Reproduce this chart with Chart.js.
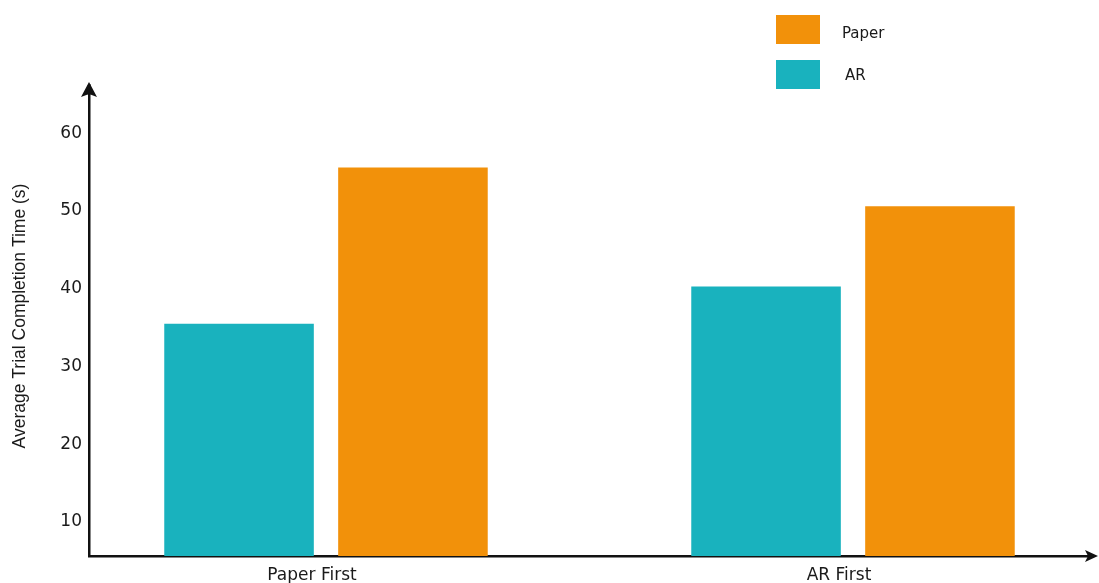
<!DOCTYPE html>
<html>
<head>
<meta charset="utf-8">
<script src="https://cdn.jsdelivr.net/npm/chart.js@4.4.1/dist/chart.umd.min.js"></script>
<style>
  html, body { margin: 0; padding: 0; background: #ffffff; }
  #wrap { width: 1099px; height: 583px; position: relative; }
</style>
</head>
<body>
<div id="wrap"><canvas id="chart"></canvas></div>
<script>
// Average trial completion time per condition order
const categories = ['Paper First', 'AR First'];
const arTimes = [35.5, 40.3];
const paperTimes = [55.6, 50.6];
const yTicks = [10, 20, 30, 40, 50, 60];
const seriesNames = ['AR', 'Paper'];
const seriesColors = ['#19B2BE', '#F2910A'];
const yTitle = 'Average Trial Completion Time (s)';

const AXIS_COLOR = '#111111';
const TEXT_COLOR = '#1a1a1a';

// Bars sit on a numeric x axis so the two groups can be placed freely
const toPoints = (values) => values.map((v, i) => ({ x: i, y: v }));

// Arrowheads on both axes, the rotated y title and a stacked legend
const decorations = {
  id: 'decorations',
  afterDraw(chart) {
    const { ctx, chartArea } = chart;
    const { left, right, top, bottom } = chartArea;
    ctx.save();
    ctx.fillStyle = AXIS_COLOR;
    ctx.strokeStyle = AXIS_COLOR;
    ctx.lineWidth = 2.5;

    // y axis arrow
    ctx.beginPath();
    ctx.moveTo(left, top + 10);
    ctx.lineTo(left, top);
    ctx.stroke();
    ctx.beginPath();
    ctx.moveTo(left, top - 3);
    ctx.lineTo(left - 8, top + 12);
    ctx.lineTo(left, top + 9);
    ctx.lineTo(left + 8, top + 12);
    ctx.closePath();
    ctx.fill();

    // x axis extension and arrow
    ctx.beginPath();
    ctx.moveTo(right, bottom);
    ctx.lineTo(right + 2, bottom);
    ctx.stroke();
    ctx.beginPath();
    ctx.moveTo(right + 6, bottom);
    ctx.lineTo(right - 7, bottom - 6);
    ctx.lineTo(right - 4, bottom);
    ctx.lineTo(right - 7, bottom + 6);
    ctx.closePath();
    ctx.fill();

    // y axis title
    ctx.save();
    ctx.translate(20, 316);
    ctx.rotate(-Math.PI / 2);
    ctx.fillStyle = TEXT_COLOR;
    ctx.font = '17.5px "Liberation Sans", Arial, sans-serif';
    ctx.textAlign = 'center';
    ctx.textBaseline = 'middle';
    ctx.fillText(yTitle, 0, 0);
    ctx.restore();

    // legend, last series on top
    const ds = chart.data.datasets;
    ctx.font = '15px "DejaVu Sans", sans-serif';
    ctx.textAlign = 'left';
    ctx.textBaseline = 'middle';
    for (let k = 0; k < ds.length; k++) {
      const d = ds[ds.length - 1 - k];
      const y = 15 + k * 45;
      ctx.fillStyle = d.backgroundColor;
      ctx.fillRect(776, y, 44, 29);
      ctx.fillStyle = TEXT_COLOR;
      ctx.fillText(d.label, 842 + k * 3, y + 19 - k * 3);
    }
    ctx.restore();
  }
};

new Chart(document.getElementById('chart'), {
  type: 'bar',
  data: {
    datasets: [
      {
        label: seriesNames[0],
        data: toPoints(arTimes),
        backgroundColor: seriesColors[0],
        borderWidth: 0
      },
      {
        label: seriesNames[1],
        data: toPoints(paperTimes),
        backgroundColor: seriesColors[1],
        borderWidth: 0
      }
    ]
  },
  options: {
    responsive: true,
    maintainAspectRatio: false,
    animation: false,
    datasets: {
      bar: { categoryPercentage: 0.66, barPercentage: 0.86, grouped: true }
    },
    layout: { padding: { top: 85, right: 7, left: 0, bottom: 0 } },
    plugins: {
      legend: { display: false },
      tooltip: { enabled: false }
    },
    scales: {
      x: {
        type: 'linear',
        min: -0.4497,
        max: 1.4535,
        offset: false,
        grid: { display: false, drawTicks: false },
        border: { display: true, color: AXIS_COLOR, width: 2.5 },
        afterBuildTicks(scale) {
          scale.ticks = categories.map((_, i) => ({ value: i }));
        },
        afterFit(scale) { scale.height = 27; },
        ticks: {
          padding: 9,
          labelOffset: -14,
          color: TEXT_COLOR,
          font: { family: '"DejaVu Sans", sans-serif', size: 17 },
          callback: (v) => categories[v] ?? ''
        }
      },
      y: {
        min: 5.63,
        max: 66.2,
        grid: { display: false, drawTicks: false },
        border: { display: true, color: AXIS_COLOR, width: 2.5 },
        afterBuildTicks(scale) {
          scale.ticks = yTicks.map((v) => ({ value: v }));
        },
        afterFit(scale) { scale.width = 89; },
        ticks: {
          padding: 7,
          color: TEXT_COLOR,
          font: { family: '"DejaVu Sans", sans-serif', size: 17 }
        }
      }
    }
  },
  plugins: [decorations]
});
</script>
</body>
</html>
